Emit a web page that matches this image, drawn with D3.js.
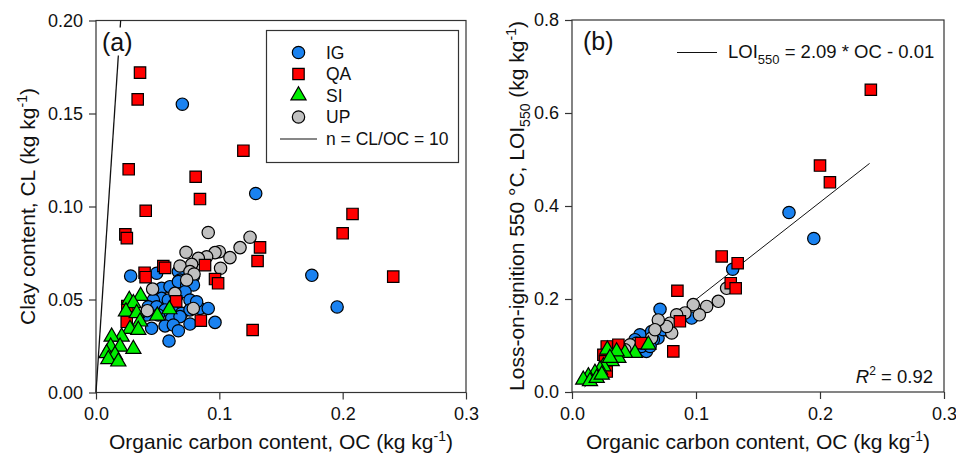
<!DOCTYPE html>
<html>
<head>
<meta charset="utf-8">
<script src="https://cdn.jsdelivr.net/npm/d3@7"></script>
<style>
  body { margin: 0; background: #fff; }
  text { font-family: "Liberation Sans", Arial, sans-serif; fill: #111; }
</style>
</head>
<body>
<div id="chart"></div>
<script>
// ---- data ----
// panel (a): [OC, CL]
const igA = [[0.070,0.155],[0.1295,0.107],[0.175,0.063],[0.1955,0.046],
  [0.0281,0.0626],[0.0492,0.0641],[0.0668,0.065],[0.0681,0.0605],[0.079,0.0623],
  [0.0532,0.056],[0.060,0.0569],[0.0668,0.0596],[0.0735,0.0578],[0.079,0.0578],
  [0.0532,0.0506],[0.0586,0.0497],[0.0654,0.0515],[0.0722,0.0542],[0.0762,0.0497],
  [0.0465,0.0497],[0.0424,0.0461],[0.0492,0.0461],[0.056,0.0444],[0.0627,0.0435],
  [0.0695,0.0426],[0.0762,0.0444],[0.0843,0.0452],[0.091,0.0452],[0.0614,0.0399],
  [0.0681,0.0408],[0.0762,0.0368],[0.056,0.0358],[0.0627,0.0363],[0.0451,0.0345],
  [0.0668,0.0332],[0.0592,0.0277],[0.0965,0.0377],[0.0411,0.0417],[0.0505,0.0417],[0.0816,0.0488]];
const upA = [[0.091,0.086],[0.1249,0.0835],[0.1168,0.0779],[0.1,0.0757],[0.0965,0.0752],[0.1086,0.0725],
  [0.0897,0.073],[0.083,0.0721],[0.073,0.0754],[0.101,0.0668],[0.0776,0.0689],[0.0681,0.068],
  [0.0762,0.065],[0.0795,0.0637],[0.0735,0.0605],[0.0459,0.0556],[0.064,0.0533],[0.0789,0.0452],[0.0416,0.044]];
const qaA = [[0.0357,0.172],[0.0338,0.1576],[0.0265,0.120],[0.0808,0.116],[0.1195,0.130],[0.0843,0.104],
  [0.208,0.096],[0.200,0.0856],[0.241,0.0623],
  [0.0403,0.0977],[0.0238,0.085],[0.025,0.083],[0.133,0.078],[0.131,0.0707],
  [0.0546,0.068],[0.056,0.067],[0.0394,0.0644],[0.0402,0.062],[0.0884,0.0685],[0.0965,0.061],[0.099,0.0587],
  [0.065,0.049],[0.085,0.0386],[0.127,0.0336],[0.0249,0.038],[0.0254,0.0465]];
const siA = [[0.0362,0.0519],[0.027,0.0497],[0.0303,0.048],[0.0243,0.0435],[0.033,0.0426],[0.0595,0.0447],
  [0.0497,0.0413],[0.0357,0.0381],[0.0276,0.0341],[0.0343,0.0336],[0.0208,0.03],[0.0127,0.03],
  [0.0119,0.0246],[0.0195,0.0246],[0.0303,0.0234],[0.0086,0.0211],[0.0154,0.0202],[0.01,0.0179],[0.0181,0.0166]];

// panel (b): [OC, LOI550]
const igB = [[0.175,0.386],[0.195,0.33],[0.1296,0.264],[0.071,0.178],[0.0548,0.123],[0.0642,0.13],[0.0694,0.116],
  [0.079,0.130],[0.060,0.0873],[0.056,0.098],[0.0965,0.159],[0.0844,0.155],[0.0737,0.134],[0.0656,0.1125],
  [0.0508,0.1125],[0.063,0.098]];
const upB = [[0.1247,0.223],[0.118,0.195],[0.1086,0.184],[0.1027,0.166],[0.0978,0.188],[0.0911,0.170],[0.0844,0.166],
  [0.079,0.148],[0.0804,0.127],[0.0763,0.141],[0.0696,0.155],[0.0642,0.116],[0.0669,0.134],[0.052,0.105],
  [0.0468,0.1017],[0.0427,0.091]];
const qaB = [[0.241,0.65],[0.200,0.487],[0.208,0.451],[0.1207,0.2915],[0.1336,0.277],[0.128,0.234],[0.132,0.223],
  [0.085,0.2177],[0.0817,0.0873],[0.0556,0.105],[0.0374,0.1017],[0.028,0.098],[0.0253,0.080],[0.0266,0.066],
  [0.028,0.044],[0.087,0.152]];
const siB = [[0.0616,0.1017],[0.0508,0.0838],[0.0427,0.0838],[0.0374,0.073],[0.032,0.066],[0.0285,0.091],[0.036,0.087],
  [0.0253,0.055],[0.0226,0.048],[0.0185,0.041],[0.0132,0.0336],[0.0091,0.0264],[0.0145,0.023],[0.0199,0.030],
  [0.024,0.037],[0.0306,0.073]];

const xTicks = [0, 0.1, 0.2, 0.3];
const yTicksA = [0, 0.05, 0.10, 0.15, 0.20];
const yTicksB = [0, 0.2, 0.4, 0.6, 0.8];
const nLine = [[0, 0], [0.02, 0.2]];          // CL/OC = 10
const fitOC = [0.01, 0.24];                    // LOI550 = 2.09*OC - 0.01
const fit = oc => 2.09 * oc - 0.01;

const groups = [
  {name: "IG", type: d3.symbolCircle, size: 120, fill: "#1a82f0"},
  {name: "UP", type: d3.symbolCircle, size: 120, fill: "#c0c0c0"},
  {name: "QA", type: d3.symbolSquare, size: 130, fill: "#ff0000"},
  {name: "SI", type: d3.symbolTriangle, size: 100, fill: "#00ee00"}
];
const legendOrder = ["IG", "QA", "SI", "UP"];

const svg = d3.select("#chart").append("svg")
  .attr("width", 956).attr("height", 456);

function drawPanel(p) {
  const x = d3.scaleLinear().domain([0, 0.3]).range([p.left, p.right]);
  const y = d3.scaleLinear().domain(p.yDomain).range([p.bottom, p.top]);
  const g = svg.append("g");

  // frame
  g.append("rect")
    .attr("x", p.left).attr("y", p.top)
    .attr("width", p.right - p.left).attr("height", p.bottom - p.top)
    .attr("fill", "none").attr("stroke", "#333").attr("stroke-width", 1.2);

  const xa = g.append("g").attr("transform", `translate(0,${p.bottom})`)
    .call(d3.axisBottom(x).tickValues(xTicks).tickFormat(d3.format(".1f")).tickSize(7).tickPadding(8));
  const ya = g.append("g").attr("transform", `translate(${p.left},0)`)
    .call(d3.axisLeft(y).tickValues(p.yTicks).tickFormat(d3.format(p.yFormat)).tickSize(7).tickPadding(6));
  [xa, ya].forEach(a => {
    a.select(".domain").remove();
    a.selectAll("line").attr("stroke", "#333").attr("stroke-width", 1.2);
    a.selectAll("text").style("font-size", "18px").attr("fill", "#111");
  });

  // x title
  const xt = g.append("text")
    .attr("x", (p.left + p.right) / 2).attr("y", 449)
    .attr("text-anchor", "middle").style("font-size", "21px")
    .text("Organic carbon content, OC (kg kg");
  xt.append("tspan").attr("dy", -8).style("font-size", "14px").text("-1");
  xt.append("tspan").attr("dy", 8).text(")");

  // y title
  const yt = g.append("text")
    .attr("transform", `translate(${p.yTitleX},${(p.top + p.bottom) / 2}) rotate(-90)`)
    .attr("text-anchor", "middle").style("font-size", "21px");
  p.yTitle(yt);

  // reference line
  p.line(g, x, y);

  // points
  p.series.forEach(s => {
    const grp = groups.find(d => d.name === s.name);
    g.append("g").selectAll("path")
      .data(s.data).join("path")
      .attr("transform", d => `translate(${x(d[0])},${y(d[1])})`)
      .attr("d", d3.symbol().type(grp.type).size(grp.size))
      .attr("fill", grp.fill).attr("stroke", "#000").attr("stroke-width", 1.2);
  });

  // panel tag with white background
  const bg = g.append("rect").attr("fill", "#fff");
  const tag = g.append("text").attr("x", p.left + p.tagDx).attr("y", p.top + 30)
    .style("font-size", "25px").text(p.tag);
  const bb = tag.node().getBBox();
  bg.attr("x", bb.x).attr("y", bb.y).attr("width", bb.width).attr("height", bb.height);

  p.extra(g, x, y);
}

drawPanel({
  left: 96, right: 466, top: 20.5, bottom: 392.5,
  yDomain: [0, 0.2], yTicks: yTicksA, yFormat: ".2f", yTitleX: 35, tag: "(a)", tagDx: 6,
  series: [{name: "IG", data: igA}, {name: "UP", data: upA}, {name: "QA", data: qaA}, {name: "SI", data: siA}],
  yTitle: t => {
    t.append("tspan").text("Clay content, CL (kg kg");
    t.append("tspan").attr("dy", -8).style("font-size", "14px").text("-1");
    t.append("tspan").attr("dy", 8).text(")");
  },
  line: (g, x, y) => {
    g.append("path").datum(nLine)
      .attr("d", d3.line().x(d => x(d[0])).y(d => y(d[1])))
      .attr("stroke", "#111").attr("stroke-width", 1.3).attr("fill", "none");
  },
  extra: (g) => {
    const lg = g.append("g");
    lg.append("rect").attr("x", 266.5).attr("y", 30.5).attr("width", 192).attr("height", 132)
      .attr("fill", "#fff").attr("stroke", "#333").attr("stroke-width", 1.2);
    legendOrder.forEach((n, i) => {
      const grp = groups.find(d => d.name === n);
      const cy = 52.5 + i * 21.5;
      lg.append("path").attr("transform", `translate(298.5,${cy})`)
        .attr("d", d3.symbol().type(grp.type).size(grp.size))
        .attr("fill", grp.fill).attr("stroke", "#000").attr("stroke-width", 1.2);
      lg.append("text").attr("x", 326).attr("y", cy + 6).style("font-size", "17.5px").text(n);
    });
    lg.append("line").attr("x1", 280).attr("x2", 317).attr("y1", 139).attr("y2", 139)
      .attr("stroke", "#111").attr("stroke-width", 1.2);
    lg.append("text").attr("x", 326).attr("y", 145).style("font-size", "17.5px").text("n = CL/OC = 10");
  }
});

drawPanel({
  left: 572, right: 944, top: 20, bottom: 392,
  yDomain: [0, 0.8], yTicks: yTicksB, yFormat: ".1f", yTitleX: 524, tag: "(b)", tagDx: 11,
  series: [{name: "IG", data: igB}, {name: "UP", data: upB}, {name: "QA", data: qaB}, {name: "SI", data: siB}],
  yTitle: t => {
    t.append("tspan").text("Loss-on-ignition 550 °C, LOI");
    t.append("tspan").attr("dy", 6).style("font-size", "14px").text("550");
    t.append("tspan").attr("dy", -6).text(" (kg kg");
    t.append("tspan").attr("dy", -8).style("font-size", "14px").text("-1");
    t.append("tspan").attr("dy", 8).text(")");
  },
  line: (g, x, y) => {
    g.append("path").datum(fitOC)
      .attr("d", d3.line().x(d => x(d)).y(d => y(fit(d))))
      .attr("stroke", "#111").attr("stroke-width", 1).attr("fill", "none");
  },
  extra: (g) => {
    g.append("line").attr("x1", 677).attr("x2", 717).attr("y1", 52.5).attr("y2", 52.5)
      .attr("stroke", "#111").attr("stroke-width", 1.2);
    const t = g.append("text").attr("x", 728).attr("y", 58).style("font-size", "18.5px").text("LOI");
    t.append("tspan").attr("dy", 6).style("font-size", "13px").text("550");
    t.append("tspan").attr("dy", -6).text(" = 2.09 * OC - 0.01");
    const r = g.append("text").attr("x", 933).attr("y", 383).attr("text-anchor", "end")
      .style("font-size", "18.5px");
    r.append("tspan").style("font-style", "italic").text("R");
    r.append("tspan").attr("dy", -8).style("font-size", "12px").text("2");
    r.append("tspan").attr("dy", 8).text(" = 0.92");
  }
});
</script>
</body>
</html>
